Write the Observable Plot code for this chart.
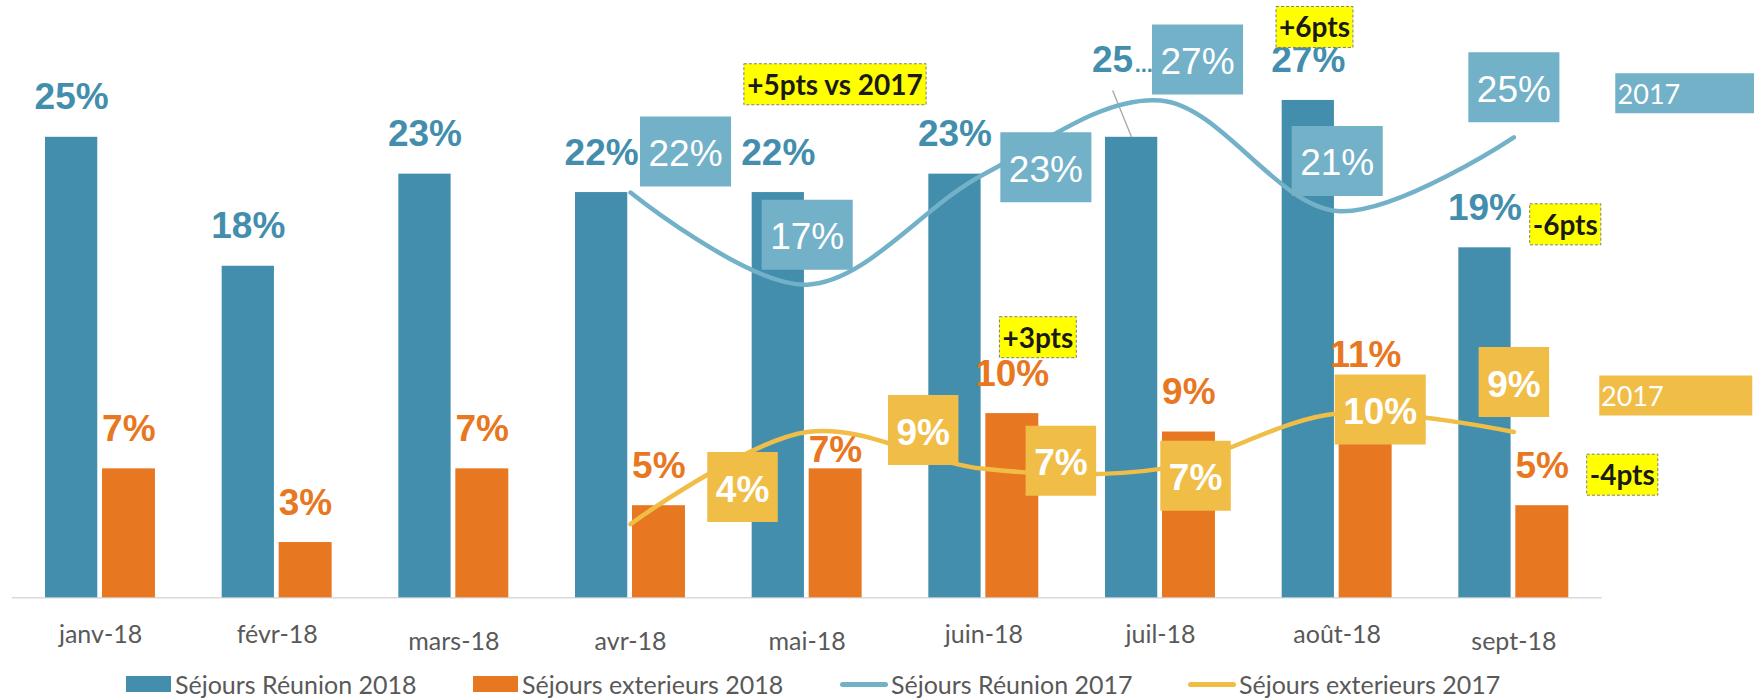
<!DOCTYPE html>
<html>
<head>
<meta charset="utf-8">
<script src="https://cdn.jsdelivr.net/npm/d3@7"></script>
<script src="https://cdn.jsdelivr.net/npm/@observablehq/plot@0.6"></script>
<style>
  body { margin: 0; background: #fff; }
  #wrap { position: relative; width: 1754px; height: 700px; overflow: hidden; background: #fff; }
  #chart svg { display: block; }
  .li { position: absolute; top: 670px; height: 28px; display: flex; align-items: center;
        font: 25px Lato, "Open Sans", sans-serif; color: #595959; white-space: nowrap; }
  .sw-rect { width: 45px; height: 16px; margin-right: 4px; }
  .sw-line { width: 48px; height: 5px; border-radius: 3px; margin-right: 3px; }
</style>
</head>
<body>
<div id="wrap"><div id="chart"></div></div>
<script>
// ---------------- DATA ----------------
const months = ["janv-18", "févr-18", "mars-18", "avr-18", "mai-18", "juin-18", "juil-18", "août-18", "sept-18"];
const reunion2018 = [25, 18, 23, 22, 22, 23, 25, 27, 19];
const exterieurs2018 = [7, 3, 7, 5, 7, 10, 9, 11, 5];
const months2017 = ["avr-18", "mai-18", "juin-18", "juil-18", "août-18", "sept-18"];
const reunion2017 = [22, 17, 23, 27, 21, 25];
const exterieurs2017 = [4, 9, 7, 7, 10, 9];
const seriesNames = ["Séjours Réunion 2018", "Séjours exterieurs 2018", "Séjours Réunion 2017", "Séjours exterieurs 2017"];
const annotationTexts = ["+5pts vs 2017", "+3pts", "+6pts", "-6pts", "-4pts"];
const annotationMonths = ["mai-18", "juin-18", "août-18", "sept-18", "sept-18"];
const annotationSeries = ["reunion", "exterieurs", "reunion", "reunion", "exterieurs"];
const seriesTag = "2017";

// ---------------- LAYOUT / STYLE ----------------
const C = {blue: "#438EAC", orange: "#E87722", lblue: "#72B1C8", yellow: "#F0BD47", axis: "#595959", base: "#D9D9D9"};
const W = 1754, H = 665, ML = 11.7, MR = 152.3, Y0 = 597.3, PX = 18.42;
const barGeom = {reunion: {l: 33.3, r: 91.1, c: -28.9}, exterieurs: {l: 90.3, r: 33.4, c: 28.3}};
const labelLift = 28;
const liftOverride = {exterieurs: {"mai-18": 7}};
const tickBase = 44.7;
const tickDrop = {"mars-18": 7, "avr-18": 7, "mai-18": 7, "sept-18": 7};
const reunionBoxOff = [[55, -41], [0, -50], [62, -7], [37, -41], [0, -50], [0, -50]];
const extBoxOff = [[112, -37], [116, -2], [77, -8], [35, 7], [43, -4], [0, -50]];
const annotOff = [[56.7, -108.3], [25.7, -76.4], [6.2, -73.5], [80.3, -23.5], [80.1, -31]];
const VAL_FONT = "Liberation Sans, Arial, sans-serif";
const CAL_FONT = "Lato, 'Open Sans', sans-serif";

const measure = (() => {
  const c = document.createElement("canvas").getContext("2d");
  return (t, font) => { c.font = font; return c.measureText(t).width; };
})();
const rectSym = (x, y, w, h) => ({
  draw(ctx) { ctx.moveTo(x, y); ctx.lineTo(x + w, y); ctx.lineTo(x + w, y + h); ctx.lineTo(x, y + h); ctx.closePath(); }
});
const segSym = (x, y) => ({ draw(ctx) { ctx.moveTo(0, 0); ctx.lineTo(x, y); } });

// ---------------- TABLES ----------------
const barsR = months.map((m, i) => ({month: m, value: reunion2018[i], series: "reunion"}));
const barsE = months.map((m, i) => ({month: m, value: exterieurs2018[i], series: "exterieurs"}));
const lineR = months2017.map((m, i) => ({month: m, value: reunion2017[i]}));
const lineE = months2017.map((m, i) => ({month: m, value: exterieurs2017[i]}));

function box(datum, o) {
  const marks = [];
  marks.push(Plot.dot([datum], {
    x: "month", y: "value", r: 1, symbol: rectSym(o.x0, -o.h / 2, o.w, o.h),
    dx: o.dx, dy: o.dy, fill: o.fill, stroke: o.stroke || "none",
    strokeWidth: 1, strokeDasharray: o.dash
  }));
  marks.push(Plot.text([datum], {
    x: "month", y: "value", text: () => o.text, dx: o.dx + (o.tx || 0), dy: o.dy + o.textDy,
    lineAnchor: "bottom", textAnchor: o.anchor || "middle", fill: o.textFill,
    fontSize: o.size, fontWeight: o.weight, fontFamily: o.family
  }));
  return marks;
}

const marks = [];
marks.push(Plot.ruleY([0], {stroke: C.base, strokeWidth: 1.5}));
marks.push(Plot.barY(barsR, {x: "month", y: "value", fill: C.blue, insetLeft: barGeom.reunion.l, insetRight: barGeom.reunion.r}));
marks.push(Plot.barY(barsE, {x: "month", y: "value", fill: C.orange, insetLeft: barGeom.exterieurs.l, insetRight: barGeom.exterieurs.r}));

// bar value labels
const liftOf = d => ((liftOverride[d.series] || {})[d.month] ?? labelLift) / PX;
marks.push(Plot.text(barsR.filter(d => d.month !== "juil-18"), {
  x: "month", y: d => d.value + liftOf(d), text: d => d.value + "%", dx: barGeom.reunion.c,
  lineAnchor: "bottom", fill: C.blue, fontSize: 37, fontWeight: "bold", fontFamily: VAL_FONT
}));
marks.push(Plot.text(barsE, {
  x: "month", y: d => d.value + liftOf(d), text: d => d.value + "%", dx: barGeom.exterieurs.c,
  lineAnchor: "bottom", fill: C.orange, fontSize: 37, fontWeight: "bold", fontFamily: VAL_FONT
}));
// truncated label with leader line (juil)
const juil = barsR.filter(d => d.month === "juil-18");
marks.push(Plot.dot(juil, {x: "month", y: "value", r: 1, symbol: segSym(-19, -46.7), dx: barGeom.reunion.c, fill: "none", stroke: "#A6A6A6", strokeWidth: 1.3}));
marks.push(Plot.text(juil, {x: "month", y: "value", text: d => String(d.value), dx: barGeom.reunion.c - 39.6, dy: -65.1,
  lineAnchor: "bottom", textAnchor: "start", fill: C.blue, fontSize: 37, fontWeight: "bold", fontFamily: VAL_FONT}));
marks.push(Plot.text(juil, {x: "month", y: "value", text: () => "...", dx: barGeom.reunion.c + 3, dy: -65.1,
  lineAnchor: "bottom", textAnchor: "start", fill: C.blue, fontSize: 22, fontWeight: "bold", fontFamily: VAL_FONT}));

// 2017 lines
marks.push(Plot.line(lineR, {x: "month", y: "value", stroke: C.lblue, strokeWidth: 4.5, curve: "catmull-rom", strokeLinecap: "round"}));
marks.push(Plot.line(lineE, {x: "month", y: "value", stroke: C.yellow, strokeWidth: 4.5, curve: "catmull-rom", strokeLinecap: "round"}));

// 2017 line label boxes
lineR.forEach((d, i) => {
  const t = d.value + "%";
  const w = measure(t, `37px ${VAL_FONT}`) + 17;
  marks.push(...box(d, {x0: -w / 2, w, h: 70, dx: reunionBoxOff[i][0], dy: reunionBoxOff[i][1], fill: C.lblue,
    text: t, textFill: "white", size: 37, weight: "normal", family: VAL_FONT, textDy: 14.5}));
});
lineE.forEach((d, i) => {
  const t = d.value + "%";
  const w = measure(t, `bold 37px ${VAL_FONT}`) + 17;
  marks.push(...box(d, {x0: -w / 2, w, h: 70, dx: extBoxOff[i][0], dy: extBoxOff[i][1], fill: C.yellow,
    text: t, textFill: "white", size: 37, weight: "bold", family: VAL_FONT, textDy: 14.5}));
});

// series tags "2017"
const lastR = lineR[lineR.length - 1], lastE = lineE[lineE.length - 1];
marks.push(...box(lastR, {x0: 0, w: 150, h: 40, dx: 101.4, dy: -44.1, fill: C.lblue, text: seriesTag, tx: 2.3,
  anchor: "start", textFill: "white", size: 27, weight: "normal", family: CAL_FONT, textDy: 10.5}));
marks.push(...box(lastE, {x0: 0, w: 153, h: 40, dx: 85.4, dy: -36.5, fill: C.yellow, text: seriesTag, tx: 1.7,
  anchor: "start", textFill: "white", size: 27, weight: "normal", family: CAL_FONT, textDy: 10}));

// annotations
annotationTexts.forEach((t, i) => {
  const src = annotationSeries[i] === "reunion" ? barsR : barsE;
  const d = src.find(b => b.month === annotationMonths[i]);
  const g = barGeom[annotationSeries[i]];
  const w = measure(t, `bold 28px ${CAL_FONT}`) + 6;
  marks.push(...box(d, {x0: -w / 2, w, h: 41, dx: g.c + annotOff[i][0], dy: annotOff[i][1], fill: "#FFFF00",
    stroke: "#7F7F7F", dash: "3,2", text: t, textFill: "#1A1A1A", size: 28, weight: "bold", family: CAL_FONT, textDy: 10.5}));
});

// category labels
marks.push(Plot.text(months.map(m => ({month: m})), {
  x: "month", y: d => -(tickBase + (tickDrop[d.month] || 0)) / PX, text: "month",
  lineAnchor: "bottom", fill: C.axis, fontSize: 25, fontFamily: CAL_FONT
}));

const chart = Plot.plot({
  width: W, height: H,
  marginLeft: ML, marginRight: MR, marginTop: 0, marginBottom: H - Y0,
  x: {type: "band", domain: months, padding: 0, round: false, axis: null},
  y: {domain: [0, Y0 / PX], axis: null},
  style: {background: "white", overflow: "visible"},
  marks
});
document.getElementById("chart").appendChild(chart);

// legend
const legendDefs = [
  {name: seriesNames[0], kind: "rect", color: C.blue, left: 126},
  {name: seriesNames[1], kind: "rect", color: C.orange, left: 473},
  {name: seriesNames[2], kind: "line", color: C.lblue, left: 840},
  {name: seriesNames[3], kind: "line", color: C.yellow, left: 1188}
];
const wrap = document.getElementById("wrap");
legendDefs.forEach(l => {
  const item = document.createElement("div");
  item.className = "li";
  item.style.left = l.left + "px";
  const sw = document.createElement("div");
  sw.className = l.kind === "rect" ? "sw-rect" : "sw-line";
  sw.style.background = l.color;
  const tx = document.createElement("span");
  tx.textContent = l.name;
  item.appendChild(sw); item.appendChild(tx);
  wrap.appendChild(item);
});
</script>
</body>
</html>
